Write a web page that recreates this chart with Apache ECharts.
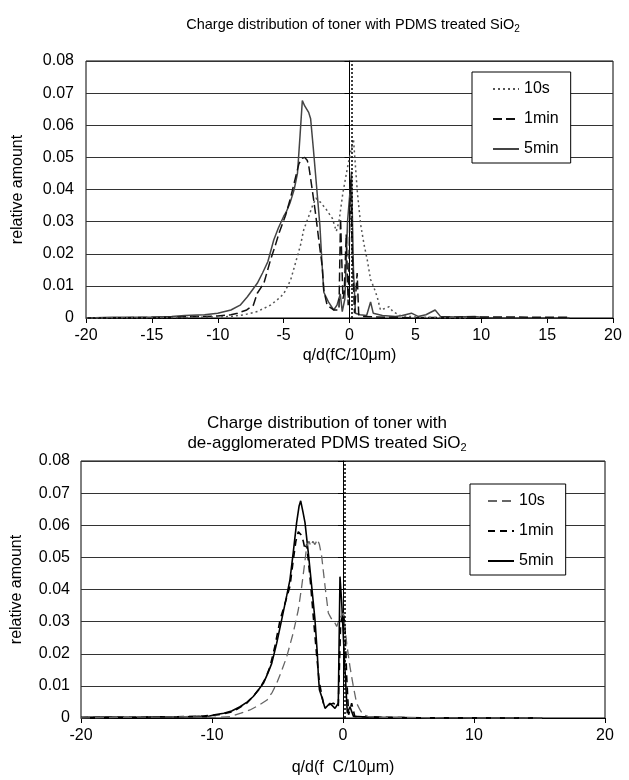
<!DOCTYPE html>
<html>
<head>
<meta charset="utf-8">
<script src="https://cdn.jsdelivr.net/npm/echarts@6/dist/echarts.min.js"></script>
<style>
  html, body { margin: 0; padding: 0; background: #fff; }
  #chart { width: 629px; height: 780px; }
</style>
</head>
<body>
<div id="chart"></div>
<script>
// x ticks / y ticks
const topXTicks = [-20, 20, 5];
const botXTicks = [-20, 20, 10];
const yTicks = [0, 0.08, 0.01];
const legendNames = ['10s', '1min', '5min'];

// top chart: PDMS treated SiO2, [q/d, relative amount]
const top10s = [[-20,0],[-16,0.0001],[-12,0.0002],[-10,0.0003],[-9,0.0005],[-8,0.001],[-7,0.002],[-6.5,0.003],[-6,0.004],[-5.5,0.0056],[-5,0.0075],[-4.47,0.0118],[-3.97,0.019],[-3.7,0.023],[-3.48,0.0274],[-3.1,0.0316],[-2.8,0.035],[-2.55,0.0373],[-2.2,0.036],[-1.8,0.034],[-1.3,0.031],[-1.0,0.027],[-0.8,0.03],[-0.5,0.039],[-0.1,0.048],[0.3,0.0557],[0.6,0.039],[0.85,0.029],[1.1,0.023],[1.35,0.018],[1.6,0.012],[1.85,0.0095],[2.1,0.0066],[2.35,0.0025],[2.7,0.003],[3.0,0.0035],[3.3,0.002],[3.8,0.0008],[5,0.0003],[7,0.0001],[9,0]];
const top1min = [[-20,0],[-17,0.0001],[-14,0.0002],[-12,0.0004],[-10,0.0006],[-9,0.001],[-8.5,0.0015],[-7.8,0.0025],[-7.3,0.004],[-7,0.0077],[-6.5,0.0108],[-6,0.018],[-5.6,0.023],[-5.35,0.0264],[-4.85,0.032],[-4.5,0.037],[-4.2,0.042],[-3.84,0.048],[-3.6,0.0497],[-3.4,0.05],[-3.2,0.049],[-3.08,0.047],[-2.83,0.04],[-2.58,0.0326],[-2.33,0.0243],[-2.07,0.016],[-1.95,0.0087],[-1.7,0.004],[-1.2,0.0025],[-0.8,0.0025],[-0.68,0.031],[-0.5,0.006],[-0.4,0.0077],[-0.25,0.026],[-0.1,0.004],[0.08,0.043],[0.2,0.022],[0.38,0.0015],[0.58,0.014],[0.7,0.001],[1,0.0005],[2,0.0003],[3,0.0002],[5,0.0001],[9,0.0003],[12,0.0003],[16.5,0.0002],[16.6,0]];
const top5min = [[-20,0],[-18,0.0002],[-16,0.0002],[-15,0.0003],[-13.5,0.0005],[-12.5,0.0008],[-11,0.001],[-10,0.0015],[-9,0.0025],[-8.3,0.004],[-7.75,0.0066],[-7,0.0108],[-6.6,0.014],[-6.2,0.0175],[-5.75,0.0243],[-5.4,0.028],[-5,0.0316],[-4.8,0.033],[-4.5,0.036],[-4.2,0.04],[-3.95,0.045],[-3.75,0.057],[-3.58,0.0677],[-3.4,0.066],[-3.1,0.064],[-2.95,0.062],[-2.75,0.053],[-2.5,0.041],[-2.25,0.029],[-2.1,0.018],[-1.95,0.008],[-1.6,0.005],[-1.2,0.0025],[-0.95,0.004],[-0.7,0.0075],[-0.55,0.002],[-0.35,0.006],[-0.15,0.03],[0.05,0.04],[0.15,0.0456],[0.3,0.015],[0.45,0.0015],[0.8,0.001],[1.3,0.0008],[1.6,0.005],[1.8,0.0015],[2.5,0.0008],[3.5,0.0005],[4,0.0008],[4.7,0.0015],[5.2,0.0005],[5.8,0.001],[6.5,0.0025],[6.9,0.0005],[8,0.0003],[9.5,0.0005],[10,0.0002],[11,0],[16.7,0]];

// bottom chart: de-agglomerated PDMS treated SiO2
const bot10s = [[-20,0],[-17,0.0002],[-14,0.0003],[-12,0.0004],[-10,0.0002],[-8.6,0.0004],[-7.8,0.0015],[-7.1,0.0025],[-6.4,0.004],[-5.8,0.0056],[-5.4,0.008],[-5.06,0.0108],[-4.7,0.0145],[-4.3,0.019],[-3.8,0.0265],[-3.41,0.0337],[-3.15,0.041],[-2.9,0.049],[-2.77,0.0535],[-2.6,0.055],[-2.45,0.0535],[-2.3,0.055],[-2.14,0.054],[-1.95,0.0556],[-1.8,0.054],[-1.63,0.0504],[-1.37,0.041],[-1.12,0.0327],[-0.9,0.031],[-0.74,0.0306],[-0.48,0.0285],[-0.25,0.031],[0.03,0.0327],[0.28,0.0233],[0.53,0.016],[0.79,0.0098],[1.04,0.0046],[1.3,0.0025],[1.55,0.001],[1.9,0.0005],[3,0.0002],[6,0.0001],[10,0],[15.2,0]];
const bot1min = [[-20,0.0001],[-17,0.0002],[-14,0.0003],[-11,0.0005],[-9.5,0.001],[-8.37,0.002],[-7.35,0.0046],[-6.8,0.007],[-6.34,0.0093],[-5.9,0.0125],[-5.57,0.016],[-5.2,0.0223],[-4.8,0.0306],[-4.4,0.036],[-4.05,0.041],[-3.8,0.049],[-3.6,0.055],[-3.41,0.058],[-3.2,0.057],[-3.03,0.055],[-2.9,0.0525],[-2.77,0.054],[-2.5,0.043],[-2.27,0.0317],[-2.0,0.019],[-1.8,0.011],[-1.5,0.0046],[-1.12,0.004],[-0.74,0.0046],[-0.36,0.0035],[-0.18,0.0296],[0.03,0.0327],[0.15,0.0285],[0.28,0.013],[0.43,0.001],[0.66,0.0046],[0.9,0.0005],[2,0.0003],[5,0.0001],[10,0.0001],[15.2,0]];
const bot5min = [[-20,0.0002],[-18,0.0003],[-16,0.0002],[-14,0.0004],[-12.5,0.0003],[-11,0.0005],[-10.4,0.0004],[-9.8,0.001],[-9.1,0.0015],[-8.5,0.0022],[-7.86,0.0035],[-7.3,0.005],[-6.85,0.0067],[-6.45,0.0088],[-6.08,0.0108],[-5.75,0.0138],[-5.44,0.017],[-5.06,0.0233],[-4.68,0.0306],[-4.3,0.038],[-4.05,0.043],[-3.8,0.0515],[-3.54,0.0608],[-3.35,0.066],[-3.23,0.0676],[-3.05,0.064],[-2.9,0.0608],[-2.65,0.0515],[-2.39,0.041],[-2.14,0.0306],[-1.96,0.02],[-1.88,0.013],[-1.8,0.0088],[-1.63,0.0067],[-1.37,0.003],[-1.0,0.0046],[-0.61,0.003],[-0.36,0.0046],[-0.23,0.044],[-0.1,0.036],[0.15,0.015],[0.33,0.0015],[0.53,0.0035],[0.8,0.0005],[1.5,0.0004],[3,0.0002],[6,0.0001],[10,0.0001],[15.2,0]];

// dotted marker line near zero
const topZeroLine = 0.15;
const botZeroLine = 0.1;

const font = 'Liberation Sans, Arial, sans-serif';
const fs = 16;

function xAxis(gi, ticks, name, gap) {
    return {
        type: 'value', gridIndex: gi, min: ticks[0], max: ticks[1], interval: ticks[2],
        name: name, nameLocation: 'middle', nameGap: gap,
        nameTextStyle: {color: '#000', fontSize: fs, fontFamily: font},
        axisLine: {lineStyle: {color: '#000', width: 1}},
        axisTick: {show: true, length: 5, lineStyle: {color: '#000'}},
        axisLabel: {color: '#000', fontSize: fs, fontFamily: font, margin: 10},
        splitLine: {show: false}
    };
}
function yAxis(gi, gap, margin) {
    return {
        type: 'value', gridIndex: gi, min: yTicks[0], max: yTicks[1], interval: yTicks[2],
        name: 'relative amount', nameLocation: 'middle', nameGap: gap,
        nameTextStyle: {color: '#000', fontSize: fs, fontFamily: font},
        axisLine: {show: true, lineStyle: {color: '#000', width: 1}},
        axisTick: {show: true, length: 5, lineStyle: {color: '#000'}},
        axisLabel: {color: '#000', fontSize: fs, fontFamily: font, margin: margin},
        splitLine: {show: true, lineStyle: {color: '#333', width: 1}}
    };
}

const vline = (v) => ({
    silent: true, symbol: 'none', label: {show: false},
    lineStyle: {color: '#000', type: [2, 2], width: 1.5},
    data: [{xAxis: v}]
});

const topStyles = [
    {color: '#555', type: [2, 3], width: 1.5},
    {color: '#111', type: [9, 4], width: 1.5},
    {color: '#444', type: 'solid', width: 1.5}
];
const botStyles = [
    {color: '#666', type: [9, 5], width: 1.3},
    {color: '#000', type: [7, 5], width: 1.6},
    {color: '#000', type: 'solid', width: 1.6}
];

const topData = [top10s, top1min, top5min];
const botData = [bot10s, bot1min, bot5min];

const series = [];
legendNames.forEach((n, i) => {
    series.push({
        name: n, type: 'line', xAxisIndex: 0, yAxisIndex: 0, data: topData[i],
        symbol: 'none', lineStyle: topStyles[i], itemStyle: {color: topStyles[i].color},
        z: 3 - i, markLine: i === 0 ? vline(topZeroLine) : undefined
    });
});
legendNames.forEach((n, i) => {
    series.push({
        name: 'b' + n, type: 'line', xAxisIndex: 1, yAxisIndex: 1, data: botData[i],
        symbol: 'none', lineStyle: botStyles[i], itemStyle: {color: botStyles[i].color},
        z: 3 - i, markLine: i === 0 ? vline(botZeroLine) : undefined
    });
});

const legendBase = {
    orient: 'vertical', itemWidth: 26, itemHeight: 14, itemGap: 14,
    itemStyle: {opacity: 0},
    backgroundColor: '#fff', borderColor: '#000', borderWidth: 1, borderRadius: 0,
    textStyle: {color: '#000', fontSize: fs, fontFamily: font}
};

const chart = echarts.init(document.getElementById('chart'));
chart.setOption({
    animation: false,
    backgroundColor: '#fff',
    title: [
        {text: '{a|Charge distribution of toner with PDMS treated SiO}{s|2}', left: 348, top: 11, textAlign: 'center',
         textStyle: {rich: {
             a: {fontSize: 14.5, fontFamily: font, fontWeight: 'normal', color: '#000', lineHeight: 18},
             s: {fontSize: 10, fontFamily: font, fontWeight: 'normal', color: '#000', lineHeight: 10, verticalAlign: 'bottom', padding: [7, 0, 0, 0]}
         }}},
        {text: '{a|Charge distribution of toner with}\n{a|de-agglomerated PDMS treated SiO}{s|2}', left: 322, top: 408, textAlign: 'center',
         textStyle: {rich: {
             a: {fontSize: 17, fontFamily: font, fontWeight: 'normal', color: '#000', lineHeight: 20},
             s: {fontSize: 11, fontFamily: font, fontWeight: 'normal', color: '#000', lineHeight: 11, verticalAlign: 'bottom', padding: [8, 0, 0, 0]}
         }}}
    ],
    legend: [
        Object.assign({}, legendBase, {
            data: legendNames, left: 472, top: 72, padding: [9, 12, 6, 20]
        }),
        Object.assign({}, legendBase, {
            data: legendNames.map(n => 'b' + n), left: 470, top: 484, padding: [9, 12, 6, 17],
            formatter: (n) => n.slice(1)
        })
    ],
    grid: [
        {left: 86, right: 16, top: 61, height: 257, show: true, borderColor: '#000', borderWidth: 1, backgroundColor: 'transparent'},
        {left: 81, right: 24, top: 461, height: 257, show: true, borderColor: '#000', borderWidth: 1, backgroundColor: 'transparent'}
    ],
    xAxis: [
        xAxis(0, topXTicks, 'q/d(fC/10μm)', 30),
        xAxis(1, botXTicks, 'q/d(f  C/10μm)', 42)
    ],
    yAxis: [
        yAxis(0, 60, 12),
        yAxis(1, 56, 11)
    ],
    series: series
});
</script>
</body>
</html>
